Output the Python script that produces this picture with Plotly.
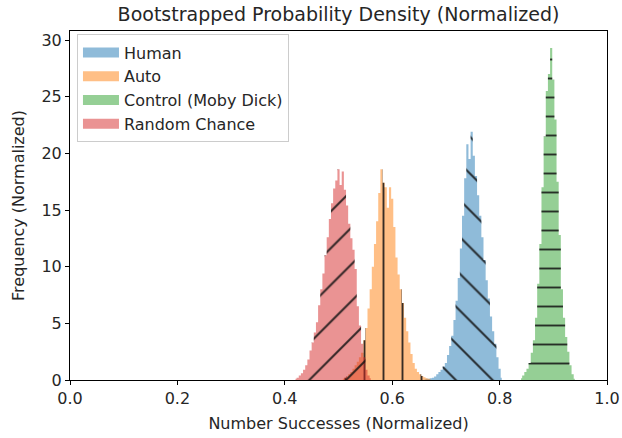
import plotly.graph_objects as go

# ---- data (bin centers, normalized densities) ----
BIN_W = 0.004

human_x = [0.660, 0.664, 0.668, 0.672, 0.676, 0.680, 0.684, 0.688, 0.692, 0.696,
           0.700, 0.704, 0.708, 0.712, 0.716, 0.720, 0.724, 0.728, 0.732, 0.736,
           0.740, 0.744, 0.748, 0.752, 0.756, 0.760, 0.764, 0.768, 0.772, 0.776,
           0.780, 0.784, 0.788, 0.792, 0.796, 0.800, 0.804]
human_y = [0.05, 0.1, 0.1, 0.15, 0.2, 0.3, 0.5, 0.7, 0.9, 1.2,
           1.5, 2.2, 3.0, 3.9, 5.3, 7.0, 9.0, 11.6, 14.5, 17.8,
           20.8, 19.5, 21.9, 19.8, 18.0, 16.3, 14.5, 12.6, 10.6, 8.8,
           7.2, 5.6, 4.3, 3.2, 2.0, 1.0, 0.2]

auto_x = [0.508, 0.512, 0.516, 0.520, 0.524, 0.528, 0.532, 0.536, 0.540, 0.544,
          0.548, 0.552, 0.556, 0.560, 0.564, 0.568, 0.572, 0.576, 0.580, 0.584,
          0.588, 0.592, 0.596, 0.600, 0.604, 0.608, 0.612, 0.616, 0.620, 0.624,
          0.628, 0.632, 0.636, 0.640, 0.644, 0.648, 0.652, 0.656, 0.660, 0.664,
          0.668, 0.672]
auto_y = [0.1, 0.2, 0.3, 0.5, 0.7, 1.0, 1.3, 1.6, 2.0, 2.4,
          3.5, 4.6, 6.3, 8.0, 10.0, 12.0, 14.0, 16.5, 18.6, 17.4,
          17.0, 15.2, 17.0, 16.0, 13.5, 10.8, 9.3, 8.0, 6.8, 5.5,
          4.3, 3.3, 2.3, 1.5, 1.0, 0.7, 0.5, 0.35, 0.25, 0.15,
          0.1, 0.05]

control_x = [0.840, 0.844, 0.848, 0.852, 0.856, 0.860, 0.864, 0.868, 0.872, 0.876,
             0.880, 0.884, 0.888, 0.892, 0.896, 0.900, 0.904, 0.908, 0.912, 0.916,
             0.920, 0.924, 0.928, 0.932, 0.936, 0.940]
control_y = [0.15, 0.4, 0.7, 1.0, 1.5, 2.4, 3.5, 5.5, 8.5, 12.0,
             17.0, 21.5, 25.5, 27.0, 29.3, 26.5, 23.0, 17.5, 12.8, 8.0,
             5.5, 3.8, 2.5, 1.3, 0.5, 0.1]

random_x = [0.420, 0.424, 0.428, 0.432, 0.436, 0.440, 0.444, 0.448, 0.452, 0.456,
            0.460, 0.464, 0.468, 0.472, 0.476, 0.480, 0.484, 0.488, 0.492, 0.496,
            0.500, 0.504, 0.508, 0.512, 0.516, 0.520, 0.524, 0.528, 0.532, 0.536,
            0.540, 0.544, 0.548, 0.552, 0.556, 0.560]
random_y = [0.1, 0.2, 0.4, 0.6, 0.9, 1.3, 1.8, 2.6, 3.3, 4.2,
            5.1, 6.6, 8.0, 9.4, 11.0, 12.6, 14.2, 15.6, 16.9, 17.6,
            18.6, 17.2, 18.4, 16.8, 15.4, 13.8, 12.5, 11.5, 9.8, 6.5,
            4.8, 3.2, 2.0, 0.9, 0.4, 0.15]

x_ticks = [0.0, 0.2, 0.4, 0.6, 0.8, 1.0]
y_ticks = [0, 5, 10, 15, 20, 25, 30]

series = [
    ("Human", human_x, human_y, "rgba(31,119,180,0.5)", "\\", 26, 0.08),
    ("Auto", auto_x, auto_y, "rgba(255,127,14,0.5)", "|", 19, 0.1),
    ("Control (Moby Dick)", control_x, control_y, "rgba(44,160,44,0.5)", "-", 19, 0.1),
    ("Random Chance", random_x, random_y, "rgba(214,39,40,0.5)", "/", 26, 0.08),
]

fig = go.Figure()
for name, xs, ys, col, shp, sz, sol in series:
    # step-filled histogram (one seamless polygon per series)
    fig.add_trace(go.Scatter(
        x=xs, y=ys, name=name, showlegend=False, mode="lines",
        line=dict(shape="hvh", width=0, color=col),
        fill="tozeroy", fillcolor=col, hoverinfo="skip",
    ))
    # hatch overlay over the same outline
    fig.add_trace(go.Scatter(
        x=xs, y=ys, name=name, showlegend=False, mode="lines",
        line=dict(shape="hvh", width=0, color="rgba(0,0,0,0)"),
        fill="tozeroy", fillcolor="rgba(0,0,0,0)",
        fillpattern=dict(shape=shp, size=sz, solidity=sol, bgcolor="rgba(0,0,0,0)",
                         fgcolor="rgba(20,20,20,0.85)", fillmode="replace"),
        hoverinfo="skip",
    ))
# legend entries (plain colour patches)
for name, xs, ys, col, shp, sz, sol in series:
    fig.add_trace(go.Scatter(x=[None], y=[None], name=name, mode="lines",
                             line=dict(color=col, width=11)))

font = "DejaVu Sans, Liberation Sans, sans-serif"
fig.update_layout(
    width=622, height=438,
    margin=dict(l=70, r=15, t=31, b=58),
    paper_bgcolor="white", plot_bgcolor="white",
    font=dict(family=font, size=16, color="#262626"),
    title=dict(text="Bootstrapped Probability Density (Normalized)", x=0.5, xref="paper",
               xanchor="center", y=1 - 14 / 438, yref="container", yanchor="middle",
               font=dict(size=19, color="#262626")),
    legend=dict(x=0.013, y=0.99, xanchor="left", yanchor="top",
                bordercolor="#cccccc", borderwidth=1, bgcolor="rgba(255,255,255,0.8)",
                font=dict(size=16), tracegroupgap=0, itemwidth=36),
    xaxis=dict(range=[0, 1], tickvals=x_ticks, tickformat=".1f", ticks="outside", ticklen=4,
               tickcolor="black", showline=True, linecolor="black", linewidth=1, mirror=True,
               showgrid=False, zeroline=False, automargin=False, tickfont=dict(size=16),
               title=dict(text="Number Successes (Normalized)", standoff=10, font=dict(size=16))),
    yaxis=dict(range=[0, 30.8], tickvals=y_ticks, ticks="outside", ticklen=4,
               tickcolor="black", showline=True, linecolor="black", linewidth=1, mirror=True,
               showgrid=False, zeroline=False, automargin=False, tickfont=dict(size=16),
               title=dict(text="Frequency (Normalized)", standoff=12, font=dict(size=16))),
)
fig.write_html("out.html", config={"displayModeBar": False},
               post_script="document.body.style.margin='0px';")
